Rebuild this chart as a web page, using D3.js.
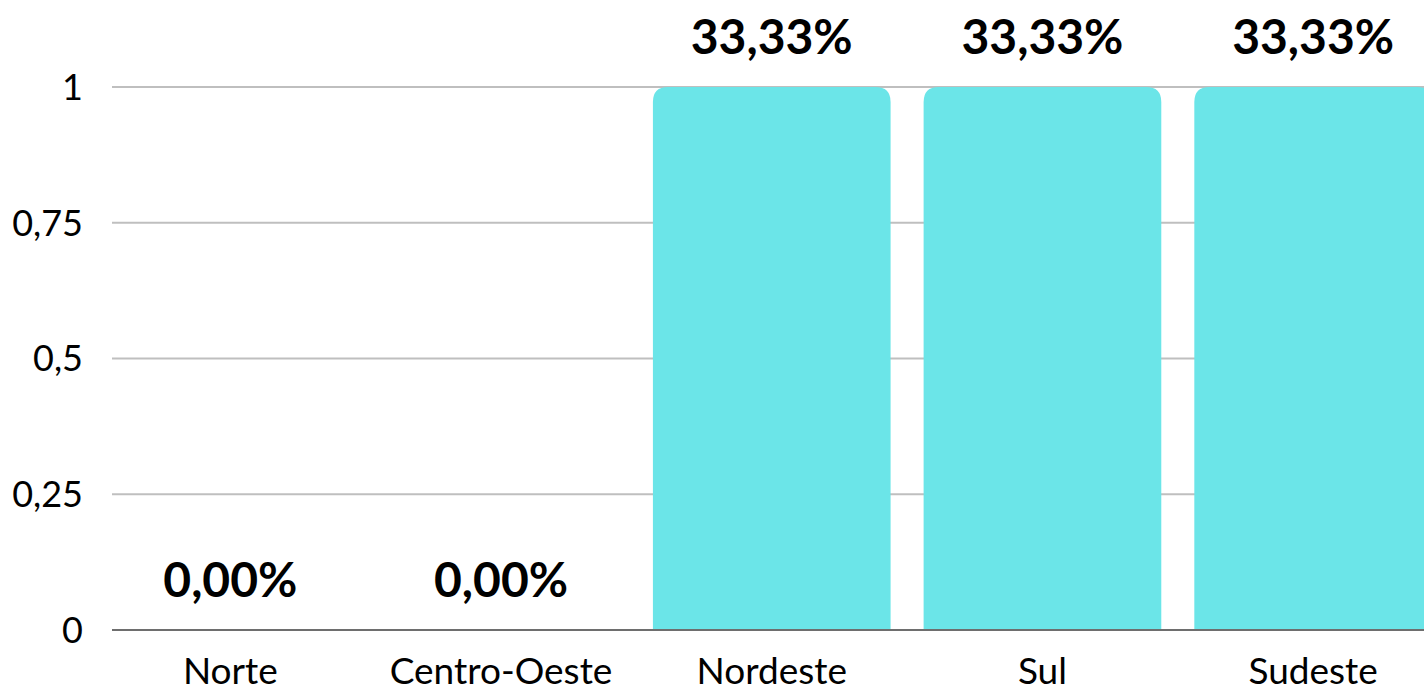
<!DOCTYPE html>
<html>
<head>
<meta charset="utf-8">
<script src="https://cdn.jsdelivr.net/npm/d3@7"></script>
<style>
  html, body { margin: 0; padding: 0; background: #fff; overflow: hidden; }
  svg { display: block; font-family: Lato, sans-serif; }
</style>
</head>
<body>
<svg id="chart" width="1424" height="688"></svg>
<script>
const categories = ["Norte", "Centro-Oeste", "Nordeste", "Sul", "Sudeste"];
const values = [0, 0, 1, 1, 1];
const labels = ["0,00%", "0,00%", "33,33%", "33,33%", "33,33%"];
const yTicks = [0, 0.25, 0.5, 0.75, 1];
const yTickLabels = ["0", "0,25", "0,5", "0,75", "1"];

const svg = d3.select("#chart");

const x = d3.scaleBand()
    .domain(categories)
    .range([95, 1448.5])
    .paddingInner(0.122)
    .paddingOuter(0.061);

const y = d3.scaleLinear()
    .domain([0, 1])
    .range([630, 87]);

const gridLeft = 112, gridRight = 1424;

// grid
svg.append("g")
    .selectAll("line")
    .data(yTicks.filter(d => d > 0))
    .join("line")
    .attr("x1", gridLeft)
    .attr("x2", gridRight)
    .attr("y1", d => y(d))
    .attr("y2", d => y(d))
    .attr("stroke", "#bfbfbf")
    .attr("stroke-width", 2);

// y tick labels
svg.append("g")
    .selectAll("text")
    .data(yTicks)
    .join("text")
    .attr("x", 83)
    .attr("y", d => y(d))
    .attr("dy", "0.36em")
    .attr("text-anchor", "end")
    .attr("font-size", 36)
    .attr("fill", "#000")
    .text((d, i) => yTickLabels[i]);

// bars with rounded top corners
const r = 15;
function barPath(d, i) {
    const x0 = x(categories[i]), w = x.bandwidth();
    const top = y(d), bot = y(0);
    if (bot - top < 1) return "";
    const rr = Math.min(r, (bot - top));
    return `M${x0},${bot}V${top + rr}Q${x0},${top} ${x0 + rr},${top}H${x0 + w - rr}Q${x0 + w},${top} ${x0 + w},${top + rr}V${bot}Z`;
}
svg.append("g")
    .selectAll("path")
    .data(values)
    .join("path")
    .attr("d", barPath)
    .attr("fill", "#6be5e8");

// baseline
svg.append("line")
    .attr("x1", gridLeft)
    .attr("x2", gridRight)
    .attr("y1", y(0))
    .attr("y2", y(0))
    .attr("stroke", "#6e6e6e")
    .attr("stroke-width", 2);

// value labels
svg.append("g")
    .selectAll("text")
    .data(values)
    .join("text")
    .attr("x", (d, i) => x(categories[i]) + x.bandwidth() / 2)
    .attr("y", d => y(d) - 33)
    .attr("text-anchor", "middle")
    .attr("font-size", 48)
    .attr("font-weight", "bold")
    .attr("fill", "#000")
    .text((d, i) => labels[i]);

// category labels
svg.append("g")
    .selectAll("text")
    .data(categories)
    .join("text")
    .attr("x", d => x(d) + x.bandwidth() / 2)
    .attr("y", 684)
    .attr("text-anchor", "middle")
    .attr("font-size", 37)
    .attr("fill", "#000")
    .text(d => d);
</script>
</body>
</html>
